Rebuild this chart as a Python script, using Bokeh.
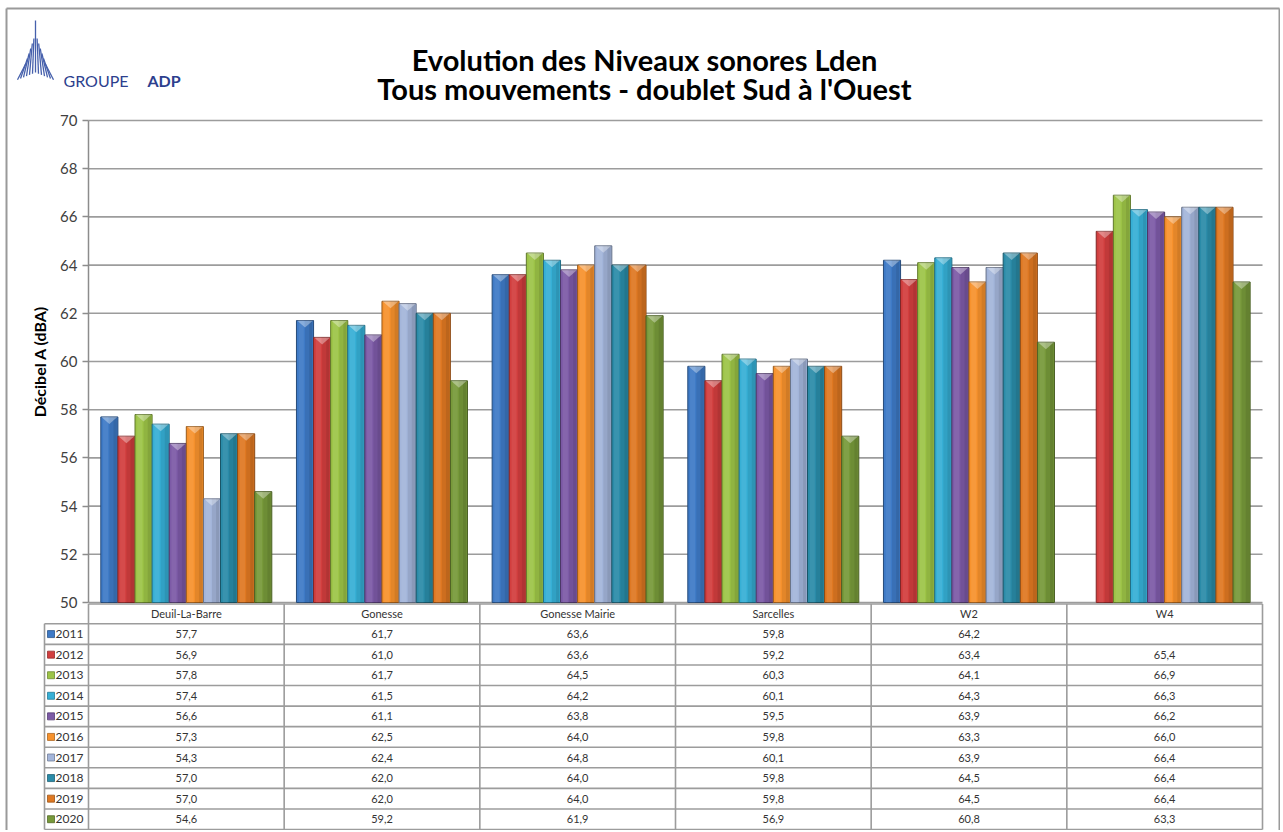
from bokeh.plotting import figure
from bokeh.models import Range1d, FixedTicker, ColumnDataSource, LinearAxis
from bokeh.core.properties import value
from bokeh.embed import file_html
from bokeh.resources import INLINE

# ---------------- data ----------------
categories = ["Deuil-La-Barre", "Gonesse", "Gonesse Mairie", "Sarcelles", "W2", "W4"]
years = ["2011", "2012", "2013", "2014", "2015", "2016", "2017", "2018", "2019", "2020"]
v2011 = [57.7, 61.7, 63.6, 59.8, 64.2, None]
v2012 = [56.9, 61.0, 63.6, 59.2, 63.4, 65.4]
v2013 = [57.8, 61.7, 64.5, 60.3, 64.1, 66.9]
v2014 = [57.4, 61.5, 64.2, 60.1, 64.3, 66.3]
v2015 = [56.6, 61.1, 63.8, 59.5, 63.9, 66.2]
v2016 = [57.3, 62.5, 64.0, 59.8, 63.3, 66.0]
v2017 = [54.3, 62.4, 64.8, 60.1, 63.9, 66.4]
v2018 = [57.0, 62.0, 64.0, 59.8, 64.5, 66.4]
v2019 = [57.0, 62.0, 64.0, 59.8, 64.5, 66.4]
v2020 = [54.6, 59.2, 61.9, 56.9, 60.8, 63.3]
series = [v2011, v2012, v2013, v2014, v2015, v2016, v2017, v2018, v2019, v2020]
y_ticks = [50, 52, 54, 56, 58, 60, 62, 64, 66, 68, 70]
title_lines = ["Evolution des Niveaux sonores Lden", "Tous mouvements - doublet Sud à l'Ouest"]
y_label = "Décibel A (dBA)"

colors = ["#3E7AC6", "#D23E3E", "#9DC447", "#36AFD5", "#7C5AA6",
          "#F7922D", "#A3B5DA", "#2A8BA8", "#DF7822", "#77993A"]

# ---------------- layout constants (page pixels) ----------------
FONT = "Lato"
GRID = "#9C9C9C"
CW, CH = 1280, 830                 # canvas size
AX_L, AX_R = 88.0, 1262.0          # plot area left/right
AX_T, AX_B = 120.0, 602.0          # y=70 / y=50
CAT_PX = (AX_R - AX_L) / 6.0
PXU = (AX_B - AX_T) / 20.0
Y0 = 50.0


def px2x(px):
    return (px - AX_L) / CAT_PX


def px2y(py):
    return Y0 + (AX_B - py) / PXU


def shade(h, f):
    h = h.lstrip("#")
    r, g, b = int(h[0:2], 16), int(h[2:4], 16), int(h[4:6], 16)
    return "#%02x%02x%02x" % (int(r * f), int(g * f), int(b * f))


PAD = 12.3 / CAT_PX
BW = 17.1 / CAT_PX

p = figure(width=CW, height=CH,
           x_range=Range1d(px2x(0), px2x(CW)), y_range=Range1d(px2y(CH), px2y(0)),
           output_backend="svg", toolbar_location=None, title=None,
           x_axis_location=None, y_axis_location=None, min_border=0,
           outline_line_color=None)
p.xgrid.visible = False
p.ygrid.visible = False

# outer frame (top/left/right)
p.segment(x0=[px2x(6), px2x(6), px2x(1279)], y0=[px2y(8), px2y(8), px2y(8)],
          x1=[px2x(1279), px2x(6), px2x(1279)], y1=[px2y(8), px2y(CH + 5), px2y(CH + 5)],
          line_color="#9A9A9A", line_width=2)

# ---------------- header ----------------
p.text(x=[px2x(644), px2x(644)], y=[px2y(59), px2y(88)], text=title_lines,
       text_font=value(FONT), text_font_style="bold", text_font_size="29px",
       text_color="#000000", text_align="center", text_baseline="alphabetic")
lx0, ly0, lx1, ly1 = [], [], [], []
for k in range(-6, 7):
    lx0.append(px2x(35 + k * 1.6))
    ly0.append(px2y(20 if k == 0 else 38 + (abs(k) - 1) * 5.0))
    lx1.append(px2x(35 + k * 3.0))
    ly1.append(px2y(72 + abs(k) * 1.2))
p.segment(x0=lx0, y0=ly0, x1=lx1, y1=ly1, line_color="#4660AC", line_width=1.3)
p.text(x=[px2x(63)], y=[px2y(80)], text=["GROUPE"], text_font=value(FONT),
       text_font_size="16px", text_color="#2D3F8E", text_baseline="alphabetic")
p.text(x=[px2x(147)], y=[px2y(80)], text=["ADP"], text_font=value(FONT),
       text_font_size="16px", text_font_style="bold", text_color="#2D3F8E",
       text_baseline="alphabetic")

# ---------------- grid + axis ----------------
p.segment(x0=[0] * len(y_ticks), x1=[6] * len(y_ticks), y0=y_ticks, y1=y_ticks,
          line_color=GRID, line_width=1.6)

yax = LinearAxis(fixed_location=0, bounds=(50, 70), ticker=FixedTicker(ticks=y_ticks))
yax.minor_tick_line_color = None
yax.major_tick_in = 0
yax.major_tick_out = 6
yax.major_tick_line_color = "#8C8C8C"
yax.major_tick_line_width = 1.5
yax.axis_line_color = "#8C8C8C"
yax.axis_line_width = 1.5
yax.major_label_text_font = FONT
yax.major_label_text_font_size = "15px"
yax.major_label_text_color = "#404040"
yax.major_label_standoff = 5
yax.axis_label = y_label
yax.axis_label_text_font = FONT
yax.axis_label_text_font_size = "16px"
yax.axis_label_text_font_style = "bold"
yax.axis_label_text_color = "#000000"
yax.axis_label_standoff = 8
p.add_layout(yax, "left")

# ---------------- bars ----------------
for j, vals in enumerate(series):
    xs, tops = [], []
    for i, v in enumerate(vals):
        if v is None:
            continue
        xs.append(i + PAD + (j + 0.5) * BW)
        tops.append(v)
    c = colors[j]
    src = ColumnDataSource(dict(x=xs, top=tops))
    p.vbar(x="x", top="top", bottom=Y0, width=BW, source=src, fill_color=c,
           line_color=shade(c, 0.62), line_width=1)
    p.vbar(x=[x + BW * 0.22 for x in xs], top=tops, bottom=Y0, width=BW * 0.44,
           fill_color="black", fill_alpha=0.08, line_color=None)
    p.vbar(x=[x + BW * 0.34 for x in xs], top=tops, bottom=Y0, width=BW * 0.2,
           fill_color="black", fill_alpha=0.08, line_color=None)
    p.vbar(x=[x - BW * 0.22 for x in xs], top=tops, bottom=Y0, width=BW * 0.3,
           fill_color="white", fill_alpha=0.07, line_color=None)
    d = 7.0 / PXU
    p.patches(xs=[[x - BW / 2 + 0.003, x + BW / 2 - 0.003, x] for x in xs],
              ys=[[t, t, t - d] for t in tops],
              fill_color="white", fill_alpha=0.35, line_color=None)

# ---------------- data table ----------------
T_TOP = 603.5
T_HDR = 623.3
RH = (829.0 - T_HDR) / 10.0
LEG_L = 44.0
row_y = [px2y(T_HDR + k * RH) for k in range(11)]
hx0, hy0, hx1, hy1 = [], [], [], []
for yy in row_y:
    hx0.append(px2x(LEG_L)); hx1.append(6); hy0.append(yy); hy1.append(yy)
hx0.append(0); hx1.append(6); hy0.append(px2y(T_TOP)); hy1.append(px2y(T_TOP))
for i in range(0, 7):
    hx0.append(i); hx1.append(i); hy0.append(px2y(T_TOP)); hy1.append(row_y[-1])
hx0.append(px2x(LEG_L)); hx1.append(px2x(LEG_L)); hy0.append(row_y[0]); hy1.append(row_y[-1])
p.segment(x0=hx0, y0=hy0, x1=hx1, y1=hy1, line_color=GRID, line_width=1.6)

p.text(x=[i + 0.5 for i in range(6)], y=[px2y((T_TOP + T_HDR) / 2)] * 6, text=categories,
       text_font=value(FONT), text_font_size="11px", text_color="#333333",
       text_align="center", text_baseline="middle")
mid_y = [px2y(T_HDR + (k + 0.5) * RH) for k in range(10)]
cx, cy, ct = [], [], []
for j, vals in enumerate(series):
    for i, v in enumerate(vals):
        if v is None:
            continue
        cx.append(i + 0.5); cy.append(mid_y[j])
        ct.append(("%.1f" % v).replace(".", ","))
p.text(x=cx, y=cy, text=ct, text_font=value(FONT), text_font_size="11px",
       text_color="#333333", text_align="center", text_baseline="middle")
p.rect(x=[px2x(50.5)] * 10, y=mid_y, width=7, height=7,
       width_units="screen", height_units="screen", fill_color=colors,
       line_color=[shade(c, 0.7) for c in colors], line_width=0.8)
p.text(x=[px2x(55)] * 10, y=mid_y, text=years,
       text_font=value(FONT), text_font_size="12px", text_color="#333333",
       text_align="left", text_baseline="middle")

open("out.html", "w").write(file_html(p, INLINE))
